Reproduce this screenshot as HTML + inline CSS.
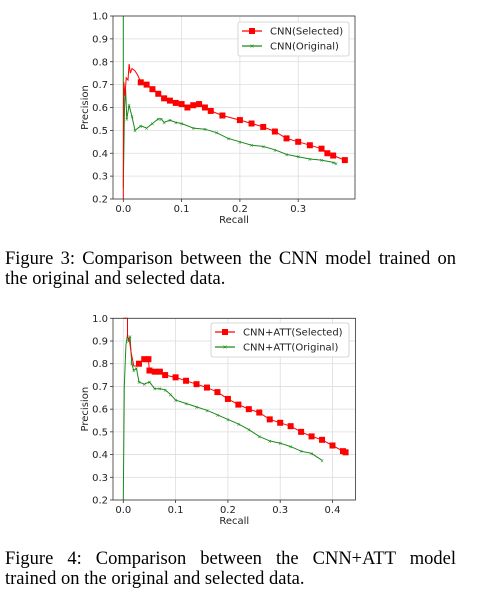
<!DOCTYPE html>
<html><head><meta charset="utf-8"><style>
body{margin:0;background:#fff;width:495px;height:597px;overflow:hidden;position:relative}
svg{position:absolute;left:0;top:0}
.cap{position:absolute;left:5px;width:451px;font-family:"Liberation Serif",serif;font-size:18.5px;line-height:20px;text-align:justify;text-align-last:left;color:#000}
.cap .l1{text-align-last:justify}
text{font-family:"DejaVu Sans","Liberation Sans",sans-serif;font-size:10px;fill:#222}
</style></head><body>
<svg width="495" height="597"></svg>
<div class="cap" style="top:249px">Figure 3: Comparison between the CNN model trained on the original and selected data.</div>
<div class="cap" style="top:549px"><div class="l1">Figure 4: Comparison between the CNN+ATT model</div><div>trained on the original and selected data.</div></div>
<script>
const yTicks=[0.2,0.3,0.4,0.5,0.6,0.7,0.8,0.9,1.0];
const xTicks1=[0,0.1,0.2,0.3];
const xTicks2=[0,0.1,0.2,0.3,0.4];
const sel1X=[0,0,0.001,0.003,0.005,0.008,0.01,0.012,0.015,0.02,0.025,0.03,0.04,0.05,0.06,0.07,0.08,0.09,0.1,0.11,0.12,0.13,0.14,0.15,0.17,0.2,0.22,0.24,0.26,0.28,0.3,0.32,0.34,0.35,0.36,0.38];
const sel1Y=[0.2,0.25,0.71,0.65,0.73,0.72,0.79,0.75,0.77,0.76,0.74,0.71,0.70,0.68,0.66,0.64,0.63,0.62,0.615,0.60,0.61,0.615,0.60,0.585,0.565,0.545,0.53,0.515,0.495,0.465,0.45,0.435,0.42,0.40,0.39,0.37];
const org1X=[0,0,0.002,0.004,0.006,0.01,0.015,0.02,0.03,0.04,0.05,0.06,0.065,0.07,0.08,0.09,0.1,0.12,0.14,0.16,0.18,0.2,0.22,0.24,0.26,0.28,0.3,0.32,0.34,0.36,0.365];
const org1Y=[1.0,0.25,0.6,0.68,0.55,0.61,0.56,0.50,0.52,0.51,0.53,0.55,0.55,0.535,0.545,0.535,0.53,0.51,0.505,0.49,0.465,0.45,0.435,0.43,0.415,0.395,0.385,0.375,0.37,0.36,0.355];
const sel2X=[0,0.008,0.008,0.012,0.015,0.02,0.025,0.03,0.04,0.048,0.05,0.06,0.07,0.08,0.1,0.12,0.14,0.16,0.18,0.2,0.22,0.24,0.26,0.28,0.3,0.32,0.34,0.36,0.38,0.4,0.42,0.425];
const sel2Y=[1.0,1.0,0.92,0.90,0.85,0.79,0.79,0.80,0.82,0.82,0.77,0.765,0.765,0.75,0.74,0.725,0.71,0.695,0.675,0.645,0.62,0.60,0.585,0.555,0.54,0.525,0.5,0.48,0.465,0.44,0.415,0.41];
const org2X=[0,0.002,0.005,0.008,0.01,0.013,0.016,0.02,0.025,0.03,0.04,0.05,0.06,0.07,0.08,0.09,0.1,0.12,0.14,0.16,0.18,0.2,0.22,0.24,0.26,0.28,0.3,0.32,0.34,0.36,0.38];
const org2Y=[0.2,0.7,0.88,0.93,0.90,0.92,0.80,0.77,0.78,0.72,0.71,0.72,0.69,0.69,0.685,0.665,0.64,0.625,0.61,0.595,0.575,0.555,0.535,0.51,0.48,0.46,0.45,0.435,0.415,0.405,0.375];

const svg=document.querySelector('svg');
const NS='http://www.w3.org/2000/svg';
function mk(t,a,p){const e=document.createElementNS(NS,t);for(const k in a)e.setAttribute(k,a[k]);(p||svg).appendChild(e);return e;}

function chart(o){
  const g=mk('g',{});
  
  
  const sx=v=>o.x0+v*o.xs, sy=v=>o.yTop+(1-v)/0.8*(o.yBot-o.yTop);
  yTicks.forEach(v=>{
    const l=mk('line',{x1:o.L,x2:o.R,y1:sy(v),y2:sy(v),stroke:'#ddd','stroke-width':0.8},g);
    
    mk('line',{x1:o.L-3,x2:o.L,y1:sy(v),y2:sy(v),stroke:'#333','stroke-width':0.8},g);
    const t=mk('text',{x:o.L-5,y:sy(v)+3.5,'text-anchor':'end'},g);t.textContent=v.toFixed(1);
    
  });
  o.xt.forEach(v=>{
    const l=mk('line',{x1:sx(v),x2:sx(v),y1:o.yTop,y2:o.yBot,stroke:'#ddd','stroke-width':0.8},g);
    
    mk('line',{x1:sx(v),x2:sx(v),y1:o.yBot,y2:o.yBot+3,stroke:'#333','stroke-width':0.8},g);
    const t=mk('text',{x:sx(v),y:o.yBot+13,'text-anchor':'middle'},g);t.textContent=v.toFixed(1);
    
  });
  const series=[[o.oX,o.oY,'#1a8a1a','x'],[o.sX,o.sY,'#f00','s']];
  series.forEach(([X,Y,c,m],si)=>{
    const pts=X.map((x,i)=>sx(x).toFixed(1)+','+sy(Y[i]).toFixed(1)).join(' ');
    const pl=mk('polyline',{points:pts,fill:'none',stroke:c,'stroke-width':1},g);
    
    X.forEach((x,i)=>{
      if(i<4)return;
      if(m==='s'){if(x<0.03)return;const r=mk('rect',{x:sx(x)-3,y:sy(Y[i])-3,width:6,height:6,fill:c},g);
        }
      else{const t=mk('text',{x:sx(x),y:sy(Y[i])+2,'text-anchor':'middle',style:'font-size:5px;fill:'+c},g);t.textContent='×';}
    });
  });
  const fr=mk('rect',{x:o.L,y:o.yTop,width:o.R-o.L,height:o.yBot-o.yTop,fill:'none',stroke:'#333','stroke-width':0.8},g);
  
  const xl=mk('text',{x:(o.L+o.R)/2,y:o.yBot+24,'text-anchor':'middle'},g);xl.textContent='Recall';
  
  const cy=(o.yTop+o.yBot)/2;
  const yl=mk('text',{x:88,y:cy,'text-anchor':'middle',transform:`rotate(-90 88 ${cy})`},g);yl.textContent='Precision';
  
  const lg=mk('g',{},g);
  
  mk('rect',{x:o.lx,y:o.ly,width:349-o.lx,height:34,fill:'#fff',stroke:'#ccc','stroke-width':0.8,rx:2},lg);
  const ents=[[o.ls,'#f00','s',o.ly+9],[o.lo,'#1a8a1a','x',o.ly+24]];
  ents.forEach(([lab,c,m,y])=>{
    mk('line',{x1:o.lx+4,x2:o.lx+24,y1:y,y2:y,stroke:c,'stroke-width':1.2},lg);
    if(m==='s')mk('rect',{x:o.lx+11,y:y-3,width:6,height:6,fill:c},lg);
    else{const t=mk('text',{x:o.lx+14,y:y+2,'text-anchor':'middle',style:'font-size:6px;fill:'+c},lg);t.textContent='×';}
    const t=mk('text',{x:o.lx+32,y:y+3.5},lg);t.textContent=lab;
    
  });
}
chart({name:'cnn-pr-chart',L:113,R:355,x0:123.3,xs:583,yTop:16,yBot:199,xt:xTicks1,sX:sel1X,sY:sel1Y,oX:org1X,oY:org1Y,lx:238,ly:22,ls:'CNN(Selected)',lo:'CNN(Original)'});
chart({name:'cnn-att-pr-chart',L:113,R:355.5,x0:123.3,xs:523,yTop:318.3,yBot:500,xt:xTicks2,sX:sel2X,sY:sel2Y,oX:org2X,oY:org2Y,lx:211,ly:323,ls:'CNN+ATT(Selected)',lo:'CNN+ATT(Original)'});
</script>
</body></html>
